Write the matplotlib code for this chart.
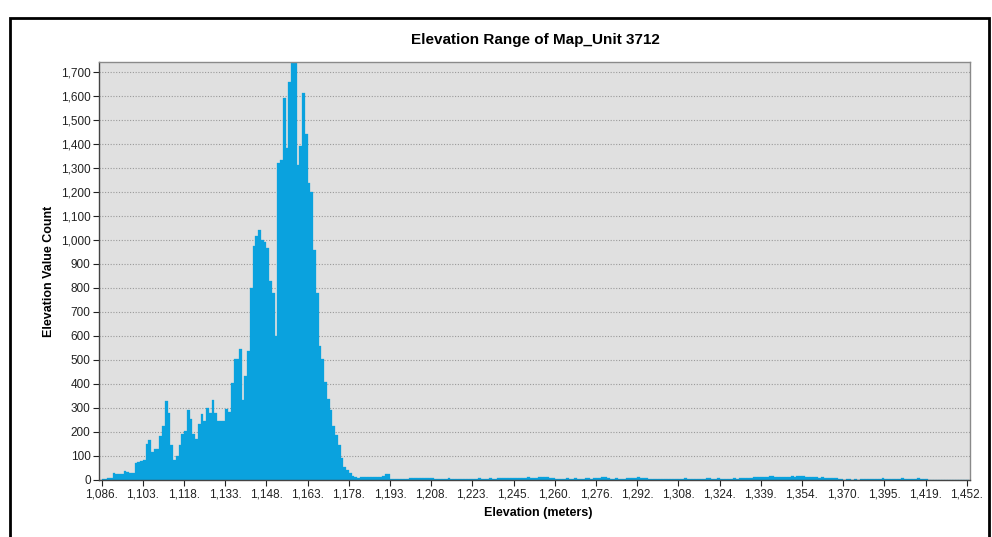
import matplotlib
matplotlib.use("Agg")
import matplotlib.pyplot as plt
from matplotlib.patches import Rectangle
from matplotlib.ticker import FuncFormatter, MultipleLocator

plt.rcParams['font.family'] = ['Liberation Sans', 'DejaVu Sans']

# x tick labels, one every 15 categories
tick_labels = ["1,086.", "1,103.", "1,118.", "1,133.", "1,148.", "1,163.", "1,178.",
               "1,193.", "1,208.", "1,223.", "1,245.", "1,260.", "1,276.", "1,292.",
               "1,308.", "1,324.", "1,339.", "1,354.", "1,370.", "1,395.", "1,419.",
               "1,452."]
tick_step = 15

# counts per elevation category, main body (1,086 - ~1,190)
counts_main = [
    3, 5, 8, 10, 28, 26, 24, 26, 38, 35, 30, 30,
    72, 75, 80, 85, 150, 165, 115, 130, 130, 185, 225, 330,
    280, 145, 85, 100, 145, 190, 205, 290, 255, 190, 170, 235,
    275, 245, 300, 280, 335, 280, 245, 245, 245, 295, 285, 405,
    505, 505, 545, 335, 435, 535, 800, 975, 1015, 1040, 1000, 990,
    965, 830, 780, 600, 1320, 1330, 1590, 1380, 1656, 1737, 1735, 1310,
    1390, 1610, 1440, 1235, 1200, 958, 780, 558, 503, 406, 337, 290,
    226, 186, 145, 90, 55, 40, 30, 15, 12, 10,
]

# long, nearly flat tail (~1,190 - 1,452)
counts_tail = [
    12, 13, 11, 12, 14, 12, 13, 14, 16,
    24, 26,
    6, 5, 6, 5, 6, 5, 6, 7,
    8, 9, 8, 10, 8, 9, 8, 7,
    5, 6, 5, 5, 6, 7, 6, 5, 5, 6, 6, 5, 4, 5, 6, 6, 7, 6, 5, 6, 7, 6, 6, 7, 7, 8, 7, 8,
    8, 9, 8, 10, 9, 10, 11, 10, 9, 10, 11, 12, 14, 11, 9,
    7, 6, 6, 5, 6, 7, 6, 6, 7, 6, 5, 6, 7, 7, 6, 7, 8, 9,
    12, 14,
    7, 6, 6, 7, 6, 5, 6, 7, 8,
    10, 9, 11, 10, 9, 8,
    6, 5, 6, 6, 5, 5, 6, 5, 5, 6, 5, 6, 6, 7, 6, 5, 5, 6, 6, 5, 6, 7, 7, 6, 6, 7, 6, 5,
    5, 6, 6, 7, 6, 7, 8, 8, 9,
    10, 11, 12, 11, 13, 14, 12, 15, 16, 14, 13, 14, 12, 13, 14, 15, 14, 16, 17, 15, 14, 13,
    12, 12, 11, 10, 11, 10, 9, 8, 8, 7, 6,
    3, 2, 3, 3, 2, 3, 2, 3, 3,
    5, 6, 6, 5, 6, 6, 7, 6, 5, 6, 6, 5, 6, 7, 6, 6, 5, 6, 6, 7, 6, 5, 5,
    1, 1, 0, 1, 1, 0, 1, 1, 1, 0, 1, 1, 0, 1, 1,
]

counts = counts_main + counts_tail

W, H = 992, 537
fig = plt.figure(figsize=(W / 100, H / 100), dpi=100)
fig.patch.set_facecolor('white')

ax = fig.add_axes([99 / W, 1 - 480 / H, (970 - 99) / W, (480 - 62) / H])
ax.set_facecolor('#e0e0e0')

ax.bar(range(len(counts)), counts, width=1, align='edge',
       color='#0aa2de', edgecolor='#0aa2de', linewidth=0.2, zorder=2)

ax.set_xlim(-0.98, 316.2)
ax.set_ylim(0, 1740)

ax.set_xticks([i * tick_step for i in range(len(tick_labels))])
ax.set_xticklabels(tick_labels)
ax.yaxis.set_major_locator(MultipleLocator(100))
ax.yaxis.set_major_formatter(FuncFormatter(lambda v, p: f"{int(v):,}"))

ax.tick_params(axis='both', labelsize=8.5, colors='#222222', length=4, width=0.8, pad=2)
ax.yaxis.grid(True, linestyle=(0, (1, 1.5)), color='#9a9a9a', linewidth=0.8)
ax.set_axisbelow(True)

for side in ['left', 'bottom']:
    ax.spines[side].set_color('#444444')
    ax.spines[side].set_linewidth(1.0)
for side in ['top', 'right']:
    ax.spines[side].set_color('#8a8a8a')
    ax.spines[side].set_linewidth(1.0)

fig.text(535 / W, 1 - 40 / H, "Elevation Range of Map_Unit 3712",
         ha='center', va='center', fontsize=11, fontweight='bold')
fig.text(538 / W, 1 - 513 / H, "Elevation (meters)",
         ha='center', va='center', fontsize=9, fontweight='bold')
fig.text(49 / W, 1 - 271 / H, "Elevation Value Count", rotation=90,
         ha='center', va='center', fontsize=9, fontweight='bold')

# black frame around the picture
fig.add_artist(Rectangle((10 / W, -0.05), (989 - 10) / W, 1 - 18 / H + 0.05,
                         transform=fig.transFigure, fill=False,
                         edgecolor='black', linewidth=2))

fig.savefig("out.png", dpi=100)
